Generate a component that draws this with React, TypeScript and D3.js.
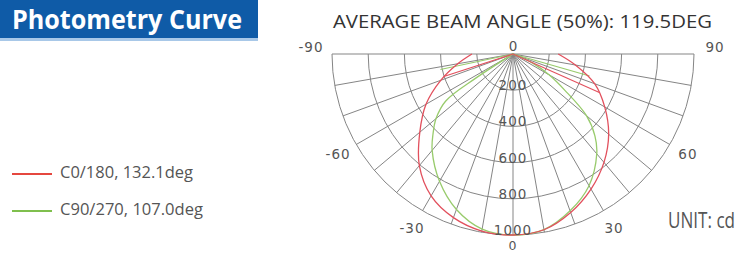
import React from 'react';
import * as d3 from 'd3';

// intensity rings (cd) and angle labels (deg)
const cdTicks = [200, 400, 600, 800, 1000];
const angleLabels = [-90, -60, -30, 0, 30, 60, 90];
const spokeAngles = d3.range(-90, 91, 10);

// C0/180 plane
const redAngles = [-90, -80, -70, -60, -50, -40, -30, -20, -10, 0, 10, 20, 30, 40, 50, 60, 70, 80, 90];
const redValues = [227, 310, 425, 555, 672, 805, 905, 962, 993, 1000, 986, 932, 862, 782, 690, 585, 480, 350, 250];
const redSpurAngles = [-72, 66];
const redSpurValues = [402, 522];

// C90/270 plane
const greenAngles = [-60, -57, -55, -50, -45, -40, -30, -20, -10, 0, 10, 20, 30, 40, 45, 50, 55, 60, 65, 70];
const greenValues = [0, 250, 455, 555, 625, 695, 812, 914, 982, 1000, 985, 922, 840, 720, 640, 530, 350, 230, 120, 0];
const greenSpurAngles = [-78, 74];
const greenSpurValues = [410, 440];

const legend = [
  { label: 'C0/180, 132.1deg', color: '#e5473f' },
  { label: 'C90/270, 107.0deg', color: '#7fbf4d' },
];

const width = 755;
const height = 255;
const cx = 513;
const cy = 54;
const R = 181;

const rad = (deg: number) => (deg * Math.PI) / 180;

export default function App() {
  const r = d3.scaleLinear().domain([0, 1000]).range([0, R]);

  // angle measured from straight down, positive to the right
  const curve = d3
    .lineRadial<[number, number]>()
    .angle((d) => Math.PI - rad(d[0]))
    .radius((d) => r(d[1]))
    .curve(d3.curveCatmullRom.alpha(0.5));

  const ring = (v: number) => {
    const p = d3.path();
    p.arc(0, 0, r(v), 0, Math.PI);
    return p.toString();
  };

  const pt = (deg: number, rr: number) => [rr * Math.sin(rad(deg)), rr * Math.cos(rad(deg))];

  const redPts = redAngles.map((a, i) => [a, redValues[i]] as [number, number]);
  const greenPts = greenAngles.map((a, i) => [a, greenValues[i]] as [number, number]);

  const labelR = 202;
  const grid = '#858585';
  const red = '#e2505d';
  const green = '#98cb6c';

  return (
    <svg width={width} height={height} style={{ position: 'absolute', left: 0, top: 0, background: '#fff' }}>
      <rect x={0} y={0} width={258} height={38} fill="#0f5ba7" />
      <rect x={0} y={38} width={258} height={3} fill="#a8c8e8" />
      <text x={12} y={29} fill="#fff" fontFamily="'Open Sans', sans-serif" fontWeight={700} fontSize={27}
        textLength={230} lengthAdjust="spacingAndGlyphs">Photometry Curve</text>

      <text x={333} y={28} fill="#333" fontFamily="'Open Sans', sans-serif" fontSize={18.5}
        textLength={379} lengthAdjust="spacingAndGlyphs">AVERAGE BEAM ANGLE (50%): 119.5DEG</text>

      <g transform={`translate(${cx},${cy})`}>
        {cdTicks.map((v) => (
          <path key={v} d={ring(v)} fill="none" stroke={grid} strokeWidth={1} />
        ))}
        {spokeAngles.map((a) => {
          const [x, y] = pt(a, R);
          return <line key={a} x1={0} y1={0} x2={x} y2={y} stroke={grid} strokeWidth={1} />;
        })}

        <path d={curve(greenPts) || ''} fill="none" stroke={green} strokeWidth={1.3} />
        {greenSpurAngles.map((a, i) => {
          const [x, y] = pt(a, r(greenSpurValues[i]));
          return <line key={a} x1={0} y1={0} x2={x} y2={y} stroke={green} strokeWidth={1.1} />;
        })}
        <path d={curve(redPts) || ''} fill="none" stroke={red} strokeWidth={1.3} />
        {redSpurAngles.map((a, i) => {
          const [x, y] = pt(a, r(redSpurValues[i]));
          return <line key={a} x1={0} y1={0} x2={x} y2={y} stroke={red} strokeWidth={1.1} />;
        })}

        {cdTicks.map((v) => (
          <text key={v} x={0} y={r(v) - 4} textAnchor="middle" dominantBaseline="middle" fill="#555"
            fontFamily="'DejaVu Sans', sans-serif" fontSize={13.5} letterSpacing={1}>{v}</text>
        ))}
        <text x={0} y={-7} textAnchor="middle" dominantBaseline="middle" fill="#555"
          fontFamily="'DejaVu Sans', sans-serif" fontSize={13.5}>0</text>
        {angleLabels.map((a) => {
          let [x, y] = pt(a, a === 0 ? 192 : labelR);
          if (Math.abs(a) === 90) y -= 6;
          return (
            <text key={a} x={x} y={y} textAnchor="middle" dominantBaseline="middle" fill="#555"
              fontFamily="'DejaVu Sans', sans-serif" fontSize={a === 0 ? 12.5 : 13.5} letterSpacing={1}>{a < 0 ? `-${-a}` : a}</text>
          );
        })}
      </g>

      {legend.map((d, i) => (
        <g key={d.label} transform={`translate(12,${174 + i * 37})`}>
          <line x1={0} x2={40} y1={0} y2={0} stroke={d.color} strokeWidth={2} />
          <text x={48} y={0} dominantBaseline="middle" fill="#555" fontFamily="'Open Sans', sans-serif" fontSize={15.5}
            textLength={i === 0 ? 133 : 143} lengthAdjust="spacingAndGlyphs">{d.label}</text>
        </g>
      ))}

      <text x={668} y={228} fill="#555" fontFamily="'Open Sans', sans-serif" fontSize={21}
        textLength={67} lengthAdjust="spacingAndGlyphs">UNIT: cd</text>
    </svg>
  );
}
